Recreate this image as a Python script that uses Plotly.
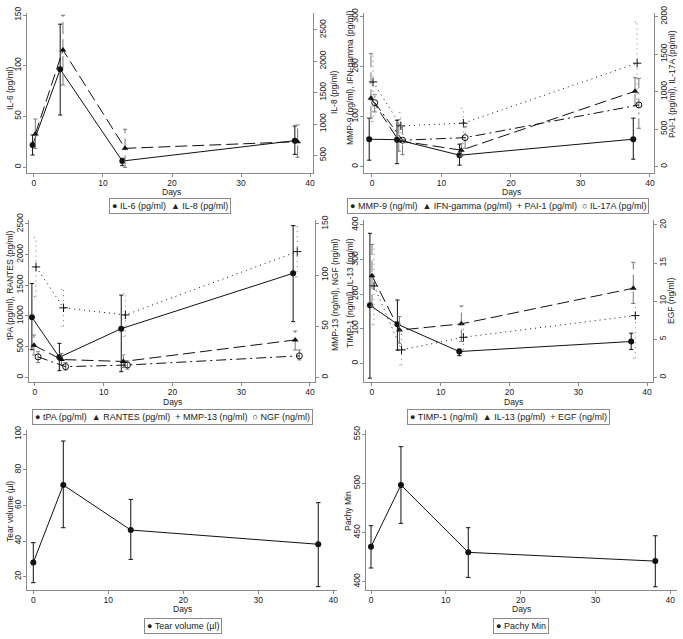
import plotly.graph_objects as go

W, H = 683, 639

# ---------------- data ----------------
days = [0, 4, 13, 38]
day_ticks = [0, 10, 20, 30, 40]

# Panel 1
il6 = [21.7, 96.4, 5.9, 26.0]
il6_lo = [11.8, 51.3, 1.3, 12.5]
il6_hi = [31.6, 141.0, 8.6, 40.5]
il8 = [841, 2181, 612, 718]
il8_lo = [612, 1622, 309, 469]
il8_hi = [1080, 2735, 916, 984]

# Panel 2
mmp9 = [55, 54, 23, 55]
mmp9_lo = [13, 6, 3, 15]
mmp9_hi = [97, 93, 45, 97]
ifng = [137, 52, 33, 151]
ifng_lo = [97, 31, 21, 122]
ifng_hi = [226, 94, 46, 178]
pai1 = [1130, 545, 580, 1380]
pai1_lo = [600, 380, 390, 830]
pai1_hi = [1500, 720, 780, 1930]
il17a = [853, 353, 387, 823]
il17a_lo = [730, 160, 245, 512]
il17a_hi = [960, 545, 533, 1178]

# Panel 3
tpa = [979, 326, 793, 1696]
tpa_lo = [450, 108, 92, 908]
tpa_hi = [1530, 554, 1340, 2473]
rantes = [522, 290, 258, 609]
rantes_lo = [364, 200, 158, 446]
rantes_hi = [690, 390, 364, 755]
mmp13 = [108, 68, 61, 123]
mmp13_lo = [79, 50, 40, 98]
mmp13_hi = [137, 86, 82, 148]
ngf = [20, 10.4, 12, 21]
ngf_lo = [14.3, 7.1, 8, 17]
ngf_hi = [25, 14.3, 16, 26.7]

# Panel 4
timp1 = [168, 113, 34, 63]
timp1_lo = [-43, 38, 22, 40]
timp1_hi = [376, 183, 41, 87]
il13 = [253, 96, 114, 217]
il13_lo = [165, 58, 63, 173]
il13_hi = [344, 135, 166, 292]
egf = [12, 3.6, 5.25, 8.1]
egf_lo = [6.9, 1.6, 3.6, 2.5]
egf_hi = [17.4, 6.2, 6.9, 9.7]

# Panel 5
tear = [27.9, 71.5, 46.2, 38.2]
tear_lo = [16.6, 47.5, 29.7, 14.4]
tear_hi = [39.1, 96.2, 63.4, 61.6]

# Panel 6
pachy = [435.6, 498.4, 429.9, 421.0]
pachy_lo = [414.0, 459.4, 404.4, 394.9]
pachy_hi = [457.0, 537.4, 455.0, 446.8]

# ---------------- styles ----------------
AX = "#8a8a8a"
TXT = "#222222"
FONT = "Liberation Sans, Arial, sans-serif"
TICK = 8.5
STYLES = [
    dict(dash="solid", symbol="circle", sym="●", ecol="#111111"),
    dict(dash="12px,5px", symbol="triangle-up", sym="▲", ecol="#777777"),
    dict(dash="1px,4px", symbol="cross-thin", sym="+", ecol="#777777"),
    dict(dash="10px,4px,2px,4px", symbol="circle-open", sym="○", ecol="#777777"),
]

fig = go.Figure()


def err_segments(x, lo, hi, cap=0.3):
    xs, ys = [], []
    for xi, l, h in zip(x, lo, hi):
        xs += [xi, xi, None, xi - cap, xi + cap, None, xi - cap, xi + cap, None]
        ys += [l, h, None, l, l, None, h, h, None]
    return xs, ys


def add_series(name, vals, lo, hi, style, offset, xa, ya):
    xv = [d + offset for d in days]
    ex, ey = err_segments(xv, lo, hi)
    fig.add_trace(go.Scatter(x=ex, y=ey, mode="lines", xaxis=xa, yaxis=ya,
                             line=dict(color=style["ecol"], width=1, dash=style["dash"]),
                             hoverinfo="skip", showlegend=False))
    mk = dict(symbol=style["symbol"], size=6, color="#111111")
    if style["symbol"] in ("cross-thin", "circle-open"):
        mk["line"] = dict(width=1, color="#111111")
    fig.add_trace(go.Scatter(x=xv, y=vals, mode="lines+markers", name=name,
                             xaxis=xa, yaxis=ya, marker=mk,
                             line=dict(color="#111111", width=1, dash=style["dash"]),
                             showlegend=False))


def fx(px):
    return px / W


def fy(py):
    return 1 - py / H


def xaxis(box, rng, anchor):
    return dict(domain=[fx(box[0]), fx(box[1])], range=rng, anchor=anchor,
                automargin=False, ticklabelstandoff=-1,
                showline=True, linecolor=AX, linewidth=1, ticks="outside",
                ticklen=3, tickcolor=AX, tickvals=day_ticks,
                tickfont=dict(size=TICK, color=TXT, family=FONT), showgrid=False,
                zeroline=False)


def yaxis(box, rng, anchor, tickvals, side="left", overlay=None):
    d = dict(range=rng, anchor=anchor, side=side, automargin=False,
             ticklabelstandoff=-1,
             showline=True, linecolor=AX, linewidth=1, ticks="outside",
             ticklen=3, tickcolor=AX, tickvals=tickvals, tickangle=-90,
             tickfont=dict(size=TICK, color=TXT, family=FONT), showgrid=False,
             zeroline=False)
    if overlay:
        d["overlaying"] = overlay
    else:
        d["domain"] = [fy(box[3]), fy(box[2])]
    return d


panels = [
    dict(box=(27, 313, 13, 173), xr=[-1.01, 40.43], xa="x", ya="y", ya2="y2",
         yl=[-5.9, 152], yt=[0, 50, 100, 150], ylt="IL-6 (pg/ml)",
         yr=[218.6, 2771], yrt=[500, 1000, 1500, 2000, 2500], yrtitle="IL-8 (pg/ml)",
         series=[("IL-6 (pg/ml)", il6, il6_lo, il6_hi, 0, -0.2, "L"),
                 ("IL-8 (pg/ml)", il8, il8_lo, il8_hi, 1, 0.2, "R")],
         lt=(10, 88), rt=(334, 92), days=(171, 191.5), leg=(170, 205.5)),
    dict(box=(364, 654, 13, 173), xr=[-1.15, 40.58], xa="x2", ya="y3", ya2="y4",
         yl=[-12.6, 307.4], yt=[0, 100, 200, 300], ylt="MMP-9 (ng/ml), IFN-gamma (pg/ml)",
         yr=[-84, 2049], yrt=[0, 500, 1000, 1500, 2000], yrtitle="PAI-1 (pg/ml), IL-17A (pg/ml)",
         series=[("MMP-9 (ng/ml)", mmp9, mmp9_lo, mmp9_hi, 0, -0.4, "L"),
                 ("IFN-gamma (pg/ml)", ifng, ifng_lo, ifng_hi, 1, -0.15, "L"),
                 ("PAI-1 (pg/ml)", pai1, pai1_lo, pai1_hi, 2, 0.15, "R"),
                 ("IL-17A (pg/ml)", il17a, il17a_lo, il17a_hi, 3, 0.4, "R")],
         lt=(350, 78), rt=(672, 84), days=(511, 191.5), leg=(498, 205.5)),
    dict(box=(29, 315, 220, 382), xr=[-0.87, 40.73], xa="x3", ya="y5", ya2="y6",
         yl=[-76.6, 2565], yt=[0, 500, 1000, 1500, 2000, 2500], ylt="tPA (pg/ml), RANTES (pg/ml)",
         yr=[-4.6, 153.9], yrt=[0, 50, 100, 150], yrtitle="MMP-13 (ng/ml), NGF (ng/ml)",
         series=[("tPA (pg/ml)", tpa, tpa_lo, tpa_hi, 0, -0.45, "L"),
                 ("RANTES (pg/ml)", rantes, rantes_lo, rantes_hi, 1, -0.15, "L"),
                 ("MMP-13 (ng/ml)", mmp13, mmp13_lo, mmp13_hi, 2, 0.15, "R"),
                 ("NGF (ng/ml)", ngf, ngf_lo, ngf_hi, 3, 0.45, "R")],
         lt=(10, 285), rt=(335, 295), days=(172, 401.5), leg=(172, 417)),
    dict(box=(364, 653, 220, 382), xr=[-1.16, 40.87], xa="x4", ya="y7", ya2="y8",
         yl=[-54.1, 414.4], yt=[0, 100, 200, 300, 400], ylt="TIMP-1 (ng/ml), IL-13 (pg/ml)",
         yr=[-0.62, 20.65], yrt=[0, 5, 10, 15, 20], yrtitle="EGF (ng/ml)",
         series=[("TIMP-1 (ng/ml)", timp1, timp1_lo, timp1_hi, 0, -0.3, "L"),
                 ("IL-13 (pg/ml)", il13, il13_lo, il13_hi, 1, 0.0, "L"),
                 ("EGF (ng/ml)", egf, egf_lo, egf_hi, 2, 0.3, "R")],
         lt=(350, 293), rt=(671, 301), days=(513, 401.5), leg=(508, 417)),
    dict(box=(27, 337, 430, 590), xr=[-0.84, 40.5], xa="x5", ya="y9", ya2=None,
         yl=[12.5, 102.4], yt=[20, 40, 60, 80, 100], ylt="Tear volume (µl)",
         series=[("Tear volume (µl)", tear, tear_lo, tear_hi, 0, 0.0, "L")],
         lt=(10, 512), rt=None, days=(182, 609), leg=(183, 626)),
    dict(box=(366, 677, 430, 590), xr=[-0.67, 40.9], xa="x6", ya="y10", ya2=None,
         yl=[391.6, 554.4], yt=[400, 450, 500, 550], ylt="Pachy Min",
         series=[("Pachy Min", pachy, pachy_lo, pachy_hi, 0, 0.0, "L")],
         lt=(348, 511), rt=None, days=(521, 609), leg=(521, 626)),
]

layout = dict(template="none", width=W, height=H, margin=dict(l=0, r=0, t=0, b=0, pad=0),
              paper_bgcolor="white", plot_bgcolor="white", showlegend=False,
              font=dict(family=FONT, size=9, color=TXT), annotations=[])


def text_ann(text, pos, angle=0, border=False, size=9):
    a = dict(text=text, x=fx(pos[0]), y=fy(pos[1]), xref="paper", yref="paper",
             xanchor="center", yanchor="middle", showarrow=False, textangle=angle,
             font=dict(size=size, color=TXT, family=FONT))
    if border:
        a.update(bordercolor=AX, borderwidth=1, borderpad=2, bgcolor="white")
    return a


for p in panels:
    xkey = "xaxis" + p["xa"][1:]
    ykey = "yaxis" + p["ya"][1:]
    layout[xkey] = xaxis(p["box"], p["xr"], p["ya"])
    layout[ykey] = yaxis(p["box"], p["yl"], p["xa"], p["yt"])
    layout["annotations"].append(text_ann(p["ylt"], p["lt"], angle=-90, size=8.5))
    if p["ya2"]:
        y2key = "yaxis" + p["ya2"][1:]
        layout[y2key] = yaxis(p["box"], p["yr"], p["xa"], p["yrt"],
                              side="right", overlay=p["ya"])
        layout["annotations"].append(text_ann(p["yrtitle"], p["rt"], angle=-90, size=8.5))
    layout["annotations"].append(text_ann("Days", p["days"], size=8.5))
    for name, vals, lo, hi, si, off, side in p["series"]:
        ya = p["ya"] if side == "L" else p["ya2"]
        add_series(name, vals, lo, hi, STYLES[si], off, p["xa"], ya)
    legend_text = "  ".join(STYLES[s[4]]["sym"] + " " + s[0] for s in p["series"])
    layout["annotations"].append(text_ann(legend_text, p["leg"], border=True, size=9))

fig.update_layout(**layout)
fig.write_html("out.html", config={"displayModeBar": False},
               post_script="document.body.style.margin='0px';")
